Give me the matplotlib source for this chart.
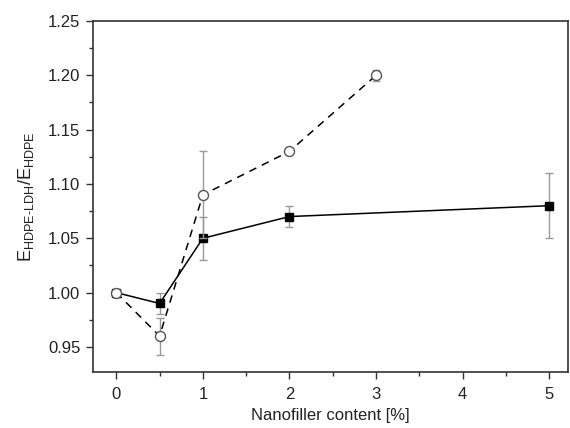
import matplotlib
matplotlib.use("Agg")
import matplotlib.pyplot as plt
from matplotlib.ticker import MultipleLocator

plt.rcParams['font.family'] = ['Liberation Sans', 'DejaVu Sans']
plt.rcParams['mathtext.fontset'] = 'custom'
plt.rcParams['mathtext.rm'] = 'Liberation Sans'
plt.rcParams['mathtext.it'] = 'Liberation Sans'

x_sq = [0, 0.5, 1, 2, 5]
y_sq = [1.00, 0.99, 1.05, 1.07, 1.08]
e_sq = [0.0, 0.01, 0.02, 0.01, 0.03]

x_ci = [0, 0.5, 1, 2, 3]
y_ci = [1.00, 0.96, 1.09, 1.13, 1.20]
e_ci = [0.0, 0.017, 0.04, 0.002, 0.005]

fig = plt.figure(figsize=(5.7, 4.28), dpi=100)
ax = fig.add_axes([0.163, 0.131, 0.834, 0.820])

ax.errorbar(x_sq, y_sq, yerr=e_sq, fmt='s', ls='-', color='black', lw=1.1,
            mfc='black', mec='black', ms=5.2, ecolor='#999999', elinewidth=1,
            capsize=3, zorder=2)
ax.errorbar(x_ci, y_ci, yerr=e_ci, fmt='o', ls='--', color='black', lw=1.1,
            mfc='white', mec='#555555', ms=7.2, ecolor='#999999', elinewidth=1,
            capsize=3, dashes=(5, 4), zorder=3)

ax.set_xlim(-0.27, 5.22)
ax.set_ylim(0.927, 1.25)
ax.xaxis.set_major_locator(MultipleLocator(1))
ax.xaxis.set_minor_locator(MultipleLocator(0.5))
ax.yaxis.set_major_locator(MultipleLocator(0.05))
ax.yaxis.set_minor_locator(MultipleLocator(0.025))
ax.yaxis.set_major_formatter(matplotlib.ticker.FormatStrFormatter('%.2f'))
ax.tick_params(which='major', length=5, width=1, labelsize=12, color='#333333', labelcolor='#222222')
ax.tick_params(axis='x', which='major', pad=6)
ax.tick_params(axis='y', which='major', pad=4)
ax.tick_params(which='minor', length=3, width=1, color='#333333')
for s in ax.spines.values():
    s.set_linewidth(1.2)
    s.set_color('#333333')

ax.set_xlabel('Nanofiller content [%]', fontsize=12, color='#222222', labelpad=4)
ax.set_ylabel(r'E$_\mathregular{HDPE\text{-}LDH}$/E$_\mathregular{HDPE}$', fontsize=13, color='#222222', labelpad=9)

fig.savefig('out.png', dpi=100)
